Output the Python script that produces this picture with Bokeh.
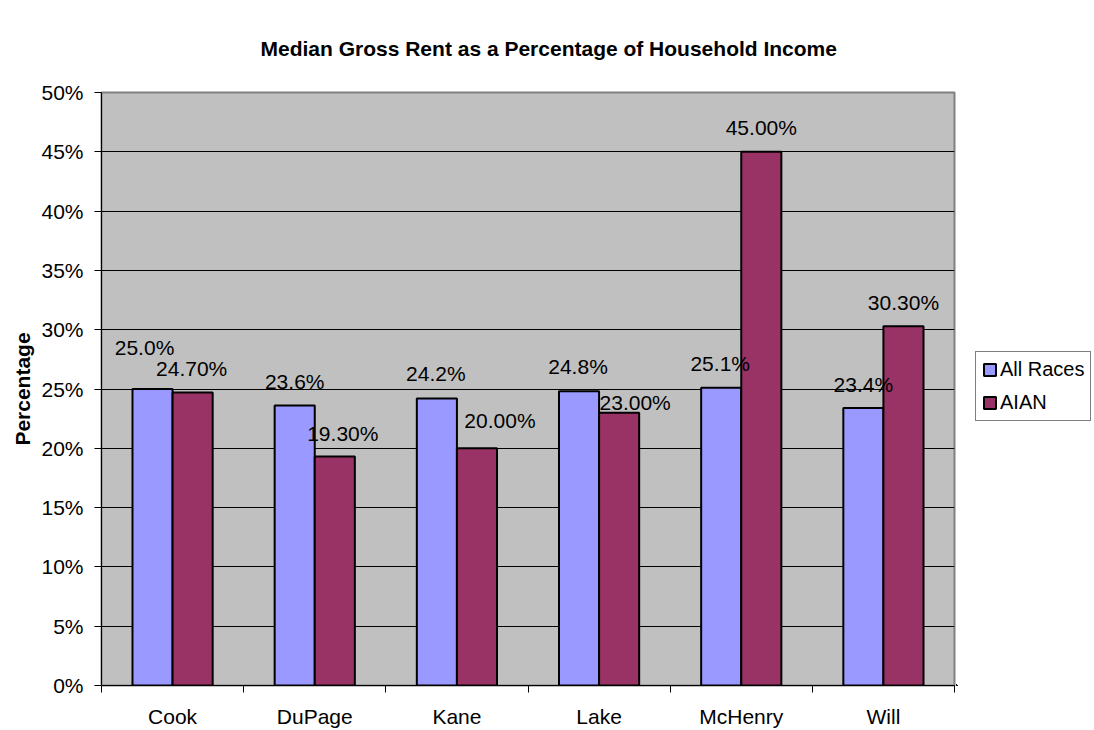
import numpy as np
from bokeh.plotting import figure
from bokeh.layouts import row
from bokeh.models import ColumnDataSource, FixedTicker, Legend, LegendItem, Range1d
from bokeh.transform import dodge
from bokeh.core.properties import value
from bokeh.embed import file_html
from bokeh.resources import INLINE

# ---- data ----
counties = ["Cook", "DuPage", "Kane", "Lake", "McHenry", "Will"]
all_races = [25.0, 23.6, 24.2, 24.8, 25.1, 23.4]
aian = [24.7, 19.3, 20.0, 23.0, 45.0, 30.3]
y_ticks = [0, 5, 10, 15, 20, 25, 30, 35, 40, 45, 50]
series_names = ["All Races", "AIAN"]
series_colors = ["#9999FF", "#993366"]

# manual label nudges (screen px) to mimic the original label placement
ar_dx = [-8, 0, -1, -1, -1, 0]
ar_dy = [-42, -24, -25, -25, -24, -23]
ai_dx = [-1, 8, 23, 16, 0, 0]
ai_dy = [-24, -23, -28, -10, -24, -24]

FONT = "Liberation Sans"
FS = "21px"

idx = (np.arange(len(counties)) + 0.5).tolist()
src = ColumnDataSource(dict(
    x=idx, county=counties,
    allr=all_races, aian=aian,
    allr_lbl=[f"{v:.1f}%" for v in all_races],
    aian_lbl=[f"{v:.2f}%" for v in aian],
    ar_dx=ar_dx, ar_dy=ar_dy, ai_dx=ai_dx, ai_dy=ai_dy,
))

p = figure(width=956, height=730, output_backend="svg", toolbar_location=None,
           x_range=Range1d(0, len(counties)), y_range=Range1d(0, 50),
           min_border_left=101, min_border_right=2, min_border_top=92,
           min_border_bottom=45,
           background_fill_color="#C0C0C0", border_fill_color="white")

p.outline_line_color = "#808080"
p.outline_line_width = 2

# title
p.title.text = "Median Gross Rent as a Percentage of Household Income"
p.title.text_font = FONT
p.title.text_font_size = FS
p.title.text_font_style = "bold"
p.title.text_color = "black"
p.title.align = "left"
p.title.offset = 159
p.title.standoff = 66

# grid
p.xgrid.visible = False
p.ygrid.ticker = FixedTicker(ticks=y_ticks)
p.ygrid.grid_line_color = "black"
p.ygrid.grid_line_width = 1

# y axis
ya = p.yaxis[0]
ya.ticker = FixedTicker(ticks=y_ticks)
ya.major_label_overrides = {t: f"{t}%" for t in y_ticks}
ya.axis_line_color = "black"
ya.major_tick_line_color = "black"
ya.major_tick_out = 7
ya.major_tick_in = 0
ya.minor_tick_line_color = None
ya.major_label_text_font = FONT
ya.major_label_text_font_size = FS
ya.major_label_text_color = "black"
ya.major_label_standoff = 11
ya.axis_label = "Percentage"
ya.axis_label_text_font = FONT
ya.axis_label_text_font_size = FS
ya.axis_label_text_font_style = "bold"
ya.axis_label_text_color = "black"
ya.axis_label_standoff = 4

# x axis: labels at centers, ticks at category boundaries
xa = p.xaxis[0]
xa.ticker = FixedTicker(ticks=idx, minor_ticks=list(range(len(counties) + 1)))
xa.major_label_overrides = {x: c for x, c in zip(idx, counties)}
xa.axis_line_color = "black"
xa.major_tick_out = 0
xa.major_tick_in = 0
xa.minor_tick_out = 7
xa.minor_tick_in = 0
xa.minor_tick_line_color = "black"
xa.major_label_text_font = FONT
xa.major_label_text_font_size = FS
xa.major_label_text_color = "black"
xa.major_label_standoff = 12

bw = 0.282
p.vbar(x=dodge("x", -bw / 2, range=p.x_range), top="allr", width=bw, source=src,
       fill_color=series_colors[0], line_color="black", line_width=2)
p.vbar(x=dodge("x", bw / 2, range=p.x_range), top="aian", width=bw, source=src,
       fill_color=series_colors[1], line_color="black", line_width=2)

p.text(x=dodge("x", -bw / 2, range=p.x_range), y="allr", text="allr_lbl", source=src,
       x_offset="ar_dx", y_offset="ar_dy", text_align="center", text_baseline="middle",
       text_font=value(FONT), text_font_size=FS, text_color="black")
p.text(x=dodge("x", bw / 2, range=p.x_range), y="aian", text="aian_lbl", source=src,
       x_offset="ai_dx", y_offset="ai_dy", text_align="center", text_baseline="middle",
       text_font=value(FONT), text_font_size=FS, text_color="black")

# ---- legend panel (separate narrow figure to the right) ----
# the same bars are drawn here but outside this panel's visible range;
# they only provide the legend swatches.
lp = figure(width=138, height=730, output_backend="svg", toolbar_location=None,
            x_range=Range1d(1000, 1001), y_range=Range1d(1000, 1001),
            x_axis_type=None, y_axis_type=None,
            min_border=0, min_border_left=0, min_border_right=0,
            min_border_top=0, min_border_bottom=0,
            outline_line_color=None, background_fill_color="white",
            border_fill_color="white")
lp.xgrid.visible = False
lp.ygrid.visible = False
proxies = [lp.vbar(x="x", top=col, width=bw, source=src, fill_color=c,
                   line_color="black", line_width=2)
           for col, c in zip(["allr", "aian"], series_colors)]

legend = Legend(items=[LegendItem(label=n, renderers=[r]) for n, r in zip(series_names, proxies)],
                location=(19, 264))
legend.label_text_font = FONT
legend.label_text_font_size = "20px"
legend.label_text_color = "black"
legend.glyph_width = 15
legend.glyph_height = 15
legend.label_standoff = 3
legend.padding = 6
legend.spacing = 10
legend.margin = 0
legend.border_line_color = "black"
legend.border_line_width = 1
legend.background_fill_color = "white"
legend.background_fill_alpha = 1
lp.add_layout(legend, "center")

layout = row(p, lp, spacing=0)
open("out.html", "w").write(file_html(layout, INLINE))
